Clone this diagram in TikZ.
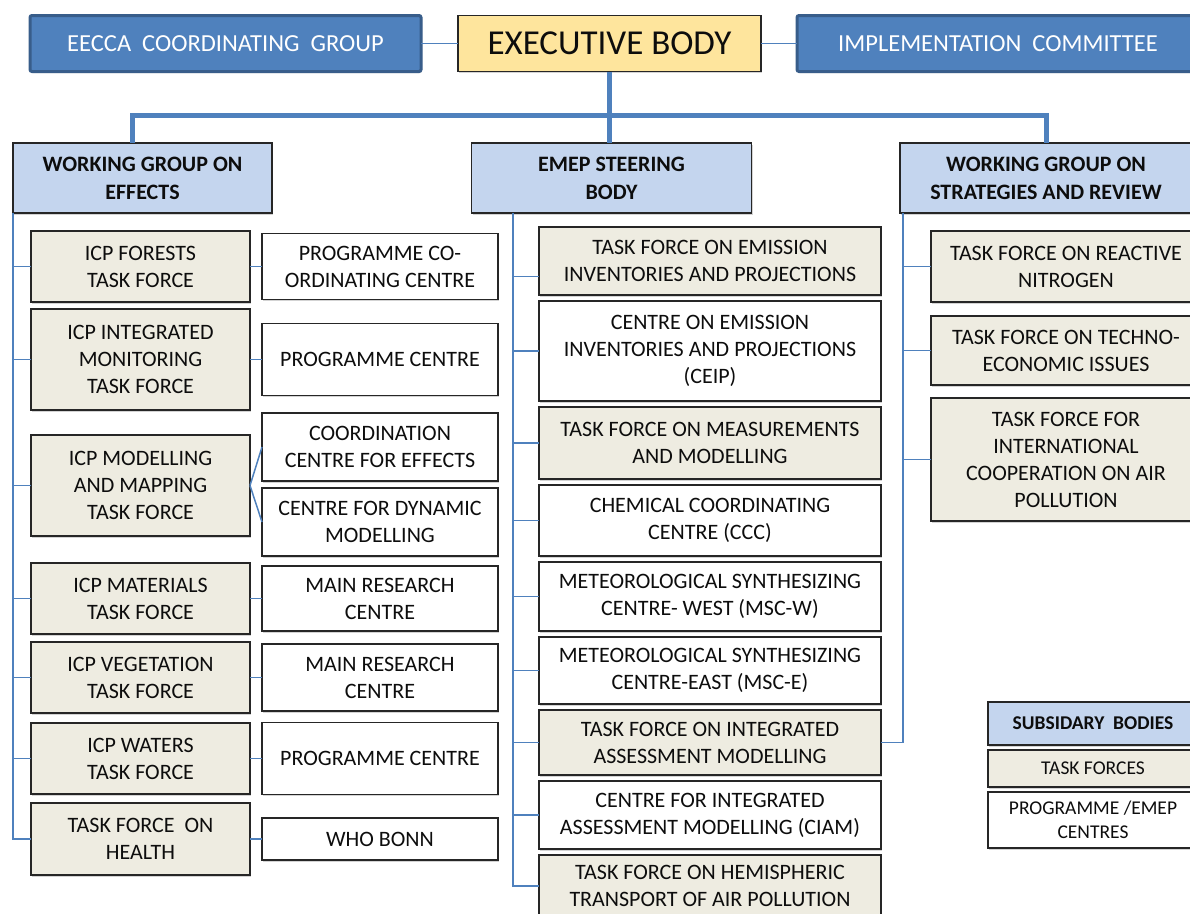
\documentclass[tikz,border=0pt]{standalone}
\usepackage{fontspec}
\setmainfont{Carlito}
\usepackage{tikz}
\usetikzlibrary{positioning,shadows}
\definecolor{linkblue}{RGB}{79,129,189}
\definecolor{darkblue}{RGB}{56,93,138}
\definecolor{execyellow}{RGB}{254,229,157}
\definecolor{hdrblue}{RGB}{196,213,238}
\definecolor{tfbeige}{RGB}{238,236,225}
\tikzstyle{box} = [rectangle, draw=black!85, line width=1.6pt, align=center, inner sep=0pt, outer sep=0pt, text=black!95, font=\fontsize{22}{27}\selectfont, drop shadow={shadow xshift=1pt, shadow yshift=-1.5pt, opacity=0.35}]
\tikzstyle{taskforce} = [box, fill=tfbeige, minimum width=219pt]
\tikzstyle{centre} = [box, fill=white, minimum width=236pt]
\tikzstyle{emeptf} = [taskforce, minimum width=342pt]
\tikzstyle{emepcentre} = [centre, minimum width=342pt]
\tikzstyle{header} = [box, fill=hdrblue, font=\fontsize{22}{28}\selectfont\bfseries, minimum height=70pt]
\tikzstyle{legend} = [minimum width=210pt, font=\fontsize{19.5}{24}\selectfont]
\tikzstyle{topbox} = [rectangle, rounded corners=2pt, draw=darkblue, line width=3pt, fill=linkblue, text=white, font=\fontsize{24.5}{29}\selectfont, minimum height=56pt, inner sep=0pt, outer sep=0pt, drop shadow={shadow xshift=1pt, shadow yshift=-1.5pt, opacity=0.35}]
\tikzstyle{execbox} = [box, fill=execyellow, font=\fontsize{35}{40}\selectfont, minimum width=303pt, minimum height=56pt]
\tikzstyle{link} = [draw=linkblue, line width=1.5pt]
\tikzstyle{bus} = [draw=linkblue, line width=5pt]

\begin{document}
\begin{tikzpicture}[x=1pt,y=-1pt]
\path [use as bounding box] (0,0) rectangle (1190,913);
\clip (0,0) rectangle (1190,913);

% top row
\node (exec) [execbox] at (609.5,43.5) {EXECUTIVE BODY};
\node (eecca) [topbox, minimum width=391pt, left=37pt of exec] {EECCA\ \ COORDINATING\ \ GROUP};
\node (impl) [topbox, minimum width=402pt, right=36pt of exec] {IMPLEMENTATION\ \ COMMITTEE};

% working groups
\node (emep) [header, minimum width=280pt] at (611.5,178) {EMEP STEERING\\BODY};
\node (wge) [header, minimum width=259pt, left=199.5pt of emep] {WORKING GROUP ON\\EFFECTS};
\node (wgsr) [header, minimum width=292pt, right=148.5pt of emep] {WORKING GROUP ON\\STRATEGIES AND REVIEW};

% effects: task forces
\node (forests) [taskforce, minimum height=71pt] at (140.5,266.5) {ICP FORESTS\\TASK FORCE};
\node (integrated) [taskforce, minimum height=101pt, below=7pt of forests] {ICP INTEGRATED\\MONITORING\\TASK FORCE};
\node (modelling) [taskforce, minimum height=101pt, below=25pt of integrated] {ICP MODELLING\\AND MAPPING\\TASK FORCE};
\node (materials) [taskforce, minimum height=71pt, below=27pt of modelling] {ICP MATERIALS\\TASK FORCE};
\node (vegetation) [taskforce, minimum height=71pt, below=8pt of materials] {ICP VEGETATION\\TASK FORCE};
\node (waters) [taskforce, minimum height=71pt, below=10pt of vegetation] {ICP WATERS\\TASK FORCE};
\node (health) [taskforce, minimum height=72pt, below=9pt of waters] {TASK FORCE\ \ ON\\HEALTH};

% effects: centres
\node (pcc) [centre, minimum height=66pt, right=12pt of forests] {PROGRAMME CO-\\ORDINATING CENTRE};
\node (pc1) [centre, minimum height=72pt, right=12pt of integrated] {PROGRAMME CENTRE};
\node (cce) [centre, minimum height=68pt, right=12pt of modelling, yshift=38.5pt] {COORDINATION\\CENTRE FOR EFFECTS};
\node (cdm) [centre, minimum height=68pt, below=7pt of cce] {CENTRE FOR DYNAMIC\\MODELLING};
\node (mrc1) [centre, minimum height=65pt, right=12pt of materials] {MAIN RESEARCH\\CENTRE};
\node (mrc2) [centre, minimum height=67pt, right=12pt of vegetation] {MAIN RESEARCH\\CENTRE};
\node (pc2) [centre, minimum height=72pt, right=12pt of waters] {PROGRAMME CENTRE};
\node (who) [centre, minimum height=42pt, right=12pt of health] {WHO BONN};

% emep
\node (tfeip) [emeptf, minimum height=68pt] at (710,261) {TASK FORCE ON EMISSION\\INVENTORIES AND PROJECTIONS};
\node (ceip) [emepcentre, minimum height=100pt, below=6pt of tfeip] {CENTRE ON EMISSION\\INVENTORIES AND PROJECTIONS\\(CEIP)};
\node (tfmm) [emeptf, minimum height=72pt, below=6pt of ceip] {TASK FORCE ON MEASUREMENTS\\AND MODELLING};
\node (ccc) [emepcentre, minimum height=71pt, below=6pt of tfmm] {CHEMICAL COORDINATING\\CENTRE (CCC)};
\node (mscw) [emepcentre, minimum height=69pt, below=6pt of ccc] {METEOROLOGICAL SYNTHESIZING\\CENTRE- WEST (MSC-W)};
\node (msce) [emepcentre, minimum height=67pt, below=6pt of mscw] {METEOROLOGICAL SYNTHESIZING\\CENTRE-EAST (MSC-E)};
\node (tfiam) [emeptf, minimum height=65pt, below=6pt of msce] {TASK FORCE ON INTEGRATED\\ASSESSMENT MODELLING};
\node (ciam) [emepcentre, minimum height=68pt, below=6pt of tfiam] {CENTRE FOR INTEGRATED\\ASSESSMENT MODELLING (CIAM)};
\node (tfhtap) [emeptf, minimum height=62pt, below=6pt of ciam] {TASK FORCE ON HEMISPHERIC\\TRANSPORT OF AIR POLLUTION};

% strategies and review
\node (tfrn) [taskforce, minimum width=270pt, minimum height=71pt] at (1066,266.5) {TASK FORCE ON REACTIVE\\NITROGEN};
\node (tfte) [taskforce, minimum width=270pt, minimum height=69pt, below=14pt of tfrn] {TASK FORCE ON TECHNO-\\ECONOMIC ISSUES};
\node (tfica) [taskforce, minimum width=270pt, minimum height=123pt, below=13pt of tfte] {TASK FORCE FOR\\INTERNATIONAL\\COOPERATION ON AIR\\POLLUTION};

% legend
\node (subsid) [header, legend, font=\fontsize{19.5}{24}\selectfont\bfseries, minimum height=43pt] at (1093,723.5) {SUBSIDARY\ \ BODIES};
\node (tforces) [taskforce, legend, minimum height=37pt, below=5pt of subsid] {TASK FORCES};
\node (progc) [centre, legend, minimum height=56pt, below=5pt of tforces] {PROGRAMME /EMEP\\CENTRES};

\draw [link] (eecca) -- (exec);
\draw [link] (exec) -- (impl);
\coordinate (busmid) at ([yshift=-44pt]exec.south);
\draw [bus] (exec.south) -- (exec.south |- emep.north);
\draw [bus] ([xshift=-10.5pt]wge.north) |- (busmid) -| (wgsr.north);

\draw [link] (wge.south west) |- (health.west);
\draw [link] (wge.south west |- forests.west) -- (forests.west);
\draw [link] (wge.south west |- integrated.west) -- (integrated.west);
\draw [link] (wge.south west |- modelling.west) -- (modelling.west);
\draw [link] (wge.south west |- materials.west) -- (materials.west);
\draw [link] (wge.south west |- vegetation.west) -- (vegetation.west);
\draw [link] (wge.south west |- waters.west) -- (waters.west);
\draw [link] (forests) -- (pcc);
\draw [link] (integrated) -- (pc1);
\draw [link] (modelling.east) -- (cce.west);
\draw [link] (modelling.east) -- (cdm.west);
\draw [link] (materials) -- (mrc1);
\draw [link] (vegetation) -- (mrc2);
\draw [link] (waters) -- (pc2);
\draw [link] (health) -- (who);

\coordinate (emepline) at ([xshift=41.5pt]emep.south west);
\coordinate (tfeiptick) at ([yshift=-15.5pt]tfeip.west);
\draw [link] (emepline) |- (tfhtap.west);
\draw [link] (emepline |- tfeiptick) -- (tfeiptick);
\draw [link] (emepline |- ceip.west) -- (ceip.west);
\draw [link] (emepline |- tfmm.west) -- (tfmm.west);
\draw [link] (emepline |- ccc.west) -- (ccc.west);
\draw [link] (emepline |- mscw.west) -- (mscw.west);
\draw [link] (emepline |- msce.west) -- (msce.west);
\draw [link] (emepline |- tfiam.west) -- (tfiam.west);
\draw [link] (emepline |- ciam.west) -- (ciam.west);

\coordinate (wgsrline) at ([xshift=3pt]wgsr.south west);
\draw [link] (wgsrline) |- (tfiam.east);
\draw [link] (wgsrline |- tfrn.west) -- (tfrn.west);
\draw [link] (wgsrline |- tfte.west) -- (tfte.west);
\draw [link] (wgsrline |- tfica.west) -- (tfica.west);

\end{tikzpicture}
\end{document}
